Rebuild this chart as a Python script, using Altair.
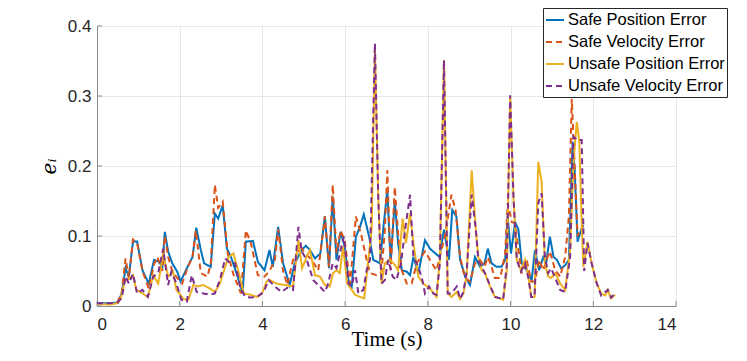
import altair as alt
import pandas as pd

series_names = ["Safe Position Error", "Safe Velocity Error",
                "Unsafe Position Error", "Unsafe Velocity Error"]
series_colors = ["#0072BD", "#D95319", "#EDB120", "#7E2F8E"]
series_dashes = [[1, 0], [6, 4], [1, 0], [6, 4]]

x_ticks = [0, 2, 4, 6, 8, 10, 12, 14]
y_ticks = [0, 0.1, 0.2, 0.3, 0.4]

safe_pos_t = [0.0, 0.3, 0.5, 0.6, 0.69, 0.77, 0.87, 0.97, 1.1, 1.25, 1.38, 1.5, 1.58, 1.64, 1.72,
              1.82, 1.94, 2.02, 2.19, 2.31, 2.4, 2.51, 2.59, 2.75, 2.85, 2.93, 3.04, 3.14, 3.24,
              3.4, 3.52, 3.6, 3.77, 3.89, 4.05, 4.17, 4.25, 4.38, 4.5, 4.66, 4.78, 4.95, 5.05,
              5.15, 5.27, 5.4, 5.51, 5.61, 5.7, 5.79, 5.89, 5.99, 6.08, 6.16, 6.26, 6.36, 6.45,
              6.58, 6.68, 6.84, 6.92, 7.02, 7.1, 7.2, 7.28, 7.37, 7.49, 7.57, 7.65, 7.77, 7.93,
              8.05, 8.28, 8.39, 8.51, 8.59, 8.69, 8.78, 8.9, 9.02, 9.14, 9.26, 9.37, 9.45, 9.54,
              9.66, 9.78, 9.87, 9.93, 10.01, 10.11, 10.19, 10.27, 10.39, 10.51, 10.59, 10.69,
              10.79, 10.86, 10.95, 11.04, 11.12, 11.22, 11.32, 11.41, 11.5, 11.55, 11.62, 11.68,
              11.76]
safe_pos_v = [0.004, 0.004, 0.005, 0.018, 0.054, 0.042, 0.092, 0.092, 0.051, 0.032, 0.066, 0.063,
              0.056, 0.106, 0.078, 0.061, 0.049, 0.035, 0.056, 0.07, 0.112, 0.08, 0.061, 0.056,
              0.132, 0.125, 0.144, 0.082, 0.07, 0.042, 0.018, 0.092, 0.093, 0.063, 0.051, 0.08,
              0.056, 0.113, 0.061, 0.03, 0.061, 0.08, 0.086, 0.08, 0.068, 0.075, 0.128, 0.054,
              0.156, 0.066, 0.106, 0.085, 0.037, 0.028, 0.099, 0.113, 0.131, 0.099, 0.066, 0.061,
              0.109, 0.166, 0.061, 0.151, 0.09, 0.051, 0.049, 0.044, 0.07, 0.047, 0.094, 0.082,
              0.07, 0.109, 0.066, 0.137, 0.128, 0.066, 0.042, 0.03, 0.07, 0.056, 0.061, 0.082,
              0.061, 0.056, 0.056, 0.066, 0.128, 0.075, 0.12, 0.109, 0.061, 0.051, 0.037, 0.08,
              0.051, 0.07, 0.061, 0.099, 0.07, 0.066, 0.054, 0.058, 0.066, 0.235, 0.194, 0.092,
              0.104, 0.116]

safe_vel_t = [0.0, 0.3, 0.5, 0.6, 0.69, 0.77, 0.87, 0.97, 1.1, 1.25, 1.38, 1.46, 1.58, 1.64, 1.72,
              1.82, 1.94, 2.06, 2.19, 2.31, 2.39, 2.51, 2.67, 2.75, 2.85, 2.93, 3.04, 3.16, 3.3,
              3.48, 3.6, 3.72, 3.89, 4.05, 4.17, 4.3, 4.38, 4.5, 4.6, 4.74, 4.92, 5.0, 5.2, 5.35,
              5.51, 5.61, 5.7, 5.79, 5.89, 5.99, 6.12, 6.26, 6.4, 6.52, 6.6, 6.76, 6.88, 6.96,
              7.02, 7.1, 7.2, 7.28, 7.37, 7.49, 7.61, 7.73, 7.93, 8.1, 8.21, 8.33, 8.41, 8.49,
              8.57, 8.67, 8.78, 8.9, 9.02, 9.14, 9.26, 9.37, 9.45, 9.54, 9.62, 9.75, 9.87, 9.93,
              10.03, 10.11, 10.19, 10.27, 10.39, 10.5, 10.59, 10.69, 10.79, 10.87, 10.95, 11.08,
              11.2, 11.32, 11.41, 11.48, 11.55, 11.62, 11.7, 11.76]
safe_vel_v = [0.003, 0.003, 0.006, 0.02, 0.068, 0.04, 0.095, 0.09, 0.05, 0.025, 0.06, 0.07, 0.05,
              0.1, 0.07, 0.05, 0.04, 0.032, 0.055, 0.07, 0.108, 0.047, 0.042, 0.06, 0.173, 0.14,
              0.149, 0.075, 0.045, 0.018, 0.108, 0.09, 0.044, 0.042, 0.05, 0.065, 0.11, 0.05,
              0.03, 0.066, 0.085, 0.078, 0.065, 0.051, 0.128, 0.056, 0.173, 0.075, 0.108, 0.094,
              0.032, 0.128, 0.099, 0.066, 0.047, 0.044, 0.049, 0.109, 0.194, 0.051, 0.17, 0.104,
              0.051, 0.032, 0.032, 0.061, 0.078, 0.061, 0.051, 0.08, 0.1, 0.128, 0.159, 0.137,
              0.07, 0.04, 0.035, 0.061, 0.066, 0.056, 0.07, 0.056, 0.04, 0.04, 0.075, 0.147, 0.12,
              0.118, 0.08, 0.047, 0.066, 0.035, 0.035, 0.066, 0.051, 0.066, 0.078, 0.051, 0.042,
              0.07, 0.128, 0.296, 0.2, 0.1, 0.11, 0.115]

unsafe_pos_t = [0.0, 0.3, 0.5, 0.57, 0.67, 0.79, 0.87, 0.95, 1.1, 1.23, 1.36, 1.48, 1.6, 1.72,
                1.84, 1.92, 2.09, 2.21, 2.33, 2.45, 2.57, 2.73, 2.85, 2.97, 3.1, 3.18, 3.3, 3.42,
                3.55, 3.71, 3.87, 3.99, 4.1, 4.18, 4.34, 4.54, 4.74, 4.87, 4.96, 5.07, 5.15, 5.27,
                5.39, 5.51, 5.63, 5.71, 5.79, 5.87, 5.95, 6.05, 6.16, 6.24, 6.36, 6.46, 6.56,
                6.64, 6.72, 6.8, 6.88, 6.96, 7.08, 7.2, 7.28, 7.39, 7.47, 7.57, 7.65, 7.77, 7.89,
                8.05, 8.21, 8.29, 8.39, 8.48, 8.57, 8.7, 8.78, 8.86, 8.94, 9.06, 9.16, 9.22, 9.3,
                9.38, 9.5, 9.62, 9.74, 9.82, 9.91, 9.99, 10.07, 10.15, 10.25, 10.35, 10.43, 10.5,
                10.58, 10.67, 10.75, 10.83, 10.91, 10.98, 11.08, 11.2, 11.32, 11.44, 11.52, 11.6,
                11.66, 11.72, 11.76, 11.86, 11.96, 12.08, 12.19, 12.29, 12.35, 12.43, 12.53]
unsafe_pos_v = [0.003, 0.002, 0.004, 0.01, 0.035, 0.04, 0.044, 0.023, 0.018, 0.013, 0.044, 0.032,
                0.075, 0.042, 0.049, 0.023, 0.01, 0.009, 0.03, 0.028, 0.03, 0.025, 0.02, 0.032,
                0.056, 0.07, 0.075, 0.049, 0.018, 0.016, 0.013, 0.018, 0.035, 0.037, 0.032, 0.03,
                0.028, 0.094, 0.054, 0.07, 0.08, 0.044, 0.042, 0.03, 0.028, 0.047, 0.051, 0.047,
                0.085, 0.032, 0.023, 0.016, 0.013, 0.011, 0.066, 0.109, 0.366, 0.156, 0.032, 0.061,
                0.066, 0.059, 0.051, 0.125, 0.09, 0.132, 0.09, 0.042, 0.032, 0.025, 0.013, 0.066,
                0.351, 0.018, 0.013, 0.02, 0.01, 0.018, 0.046, 0.194, 0.109, 0.07, 0.051, 0.047,
                0.028, 0.013, 0.011, 0.009, 0.051, 0.299, 0.156, 0.066, 0.051, 0.066, 0.042, 0.013,
                0.013, 0.206, 0.178, 0.061, 0.042, 0.04, 0.047, 0.032, 0.023, 0.08, 0.204, 0.263,
                0.237, 0.118, 0.056, 0.092, 0.061, 0.033, 0.018, 0.015, 0.023, 0.011, 0.016]

unsafe_vel_t = [0.0, 0.3, 0.5, 0.6, 0.69, 0.77, 0.87, 0.97, 1.1, 1.23, 1.36, 1.48, 1.6, 1.72, 1.8,
                1.92, 2.04, 2.17, 2.29, 2.41, 2.57, 2.73, 2.85, 2.97, 3.1, 3.22, 3.34, 3.46, 3.58,
                3.71, 3.87, 4.03, 4.15, 4.3, 4.46, 4.6, 4.74, 4.87, 4.95, 5.07, 5.23, 5.35, 5.51,
                5.59, 5.7, 5.79, 5.89, 5.97, 6.08, 6.16, 6.24, 6.32, 6.44, 6.52, 6.6, 6.72, 6.8,
                6.88, 6.96, 7.04, 7.15, 7.24, 7.35, 7.45, 7.57, 7.65, 7.73, 7.85, 7.93, 8.03, 8.13,
                8.21, 8.29, 8.39, 8.48, 8.57, 8.7, 8.78, 8.86, 8.94, 9.06, 9.16, 9.22, 9.3, 9.38,
                9.5, 9.62, 9.74, 9.82, 9.91, 9.99, 10.07, 10.15, 10.25, 10.35, 10.43, 10.5, 10.58,
                10.67, 10.75, 10.83, 10.91, 10.98, 11.08, 11.2, 11.32, 11.44, 11.52, 11.62, 11.72,
                11.78, 11.86, 11.96, 12.08, 12.19, 12.29, 12.35, 12.43, 12.53]
unsafe_vel_v = [0.004, 0.004, 0.005, 0.012, 0.042, 0.032, 0.046, 0.018, 0.023, 0.013, 0.042, 0.047,
                0.082, 0.03, 0.049, 0.032, 0.009, 0.006, 0.044, 0.02, 0.018, 0.016, 0.018, 0.037,
                0.068, 0.061, 0.061, 0.028, 0.013, 0.012, 0.013, 0.02, 0.037, 0.028, 0.02, 0.026,
                0.023, 0.113, 0.078, 0.066, 0.037, 0.03, 0.02, 0.032, 0.061, 0.054, 0.08, 0.099,
                0.032, 0.028, 0.051, 0.018, 0.023, 0.051, 0.066, 0.375, 0.156, 0.032, 0.037, 0.066,
                0.042, 0.037, 0.061, 0.109, 0.159, 0.07, 0.061, 0.042, 0.018, 0.028, 0.018, 0.016,
                0.061, 0.351, 0.018, 0.018, 0.028, 0.01, 0.02, 0.05, 0.159, 0.109, 0.066, 0.056,
                0.047, 0.03, 0.013, 0.011, 0.009, 0.06, 0.301, 0.156, 0.066, 0.049, 0.061, 0.04,
                0.013, 0.013, 0.147, 0.161, 0.07, 0.047, 0.054, 0.04, 0.023, 0.02, 0.07, 0.242,
                0.237, 0.237, 0.05, 0.09, 0.061, 0.033, 0.015, 0.02, 0.023, 0.012, 0.018]

rows = []
for name, ts, vs in zip(series_names,
                        [safe_pos_t, safe_vel_t, unsafe_pos_t, unsafe_vel_t],
                        [safe_pos_v, safe_vel_v, unsafe_pos_v, unsafe_vel_v]):
    for t, v in zip(ts, vs):
        rows.append({"t": t, "v": v, "series": name})
df = pd.DataFrame(rows)

W, H = 579, 280
AXIS_GRAY = "#8a8a8a"
TEXT = "#262626"

x_scale = alt.Scale(domain=[0, 14], nice=False, zero=False)
y_scale = alt.Scale(domain=[0, 0.4], nice=False, zero=False)

x_axis = alt.Axis(values=x_ticks, format="d", title="Time (s)", grid=True,
                  ticks=False, labelPadding=10, titlePadding=-4,
                  labelFont="Liberation Sans", labelFontSize=17, labelColor=TEXT,
                  titleFont="Liberation Serif", titleFontSize=21, titleFontWeight="normal",
                  titleColor="#000000", domainColor=AXIS_GRAY, gridColor="#e6e6e6")
y_axis = alt.Axis(values=y_ticks, format="~g", title="eᵢ", grid=True,
                  ticks=False, labelPadding=6, titlePadding=8,
                  labelFont="Liberation Sans", labelFontSize=17, labelColor=TEXT,
                  titleFont="DejaVu Serif", titleFontStyle="italic",
                  titleFontWeight="normal", titleFontSize=20, titleColor="#000000",
                  domainColor=AXIS_GRAY, gridColor="#e6e6e6")

legend = alt.Legend(
    title=None, orient="none", legendX=446, legendY=-18,
    symbolType="stroke", symbolSize=324, symbolStrokeWidth=2,
    labelFont="Liberation Sans", labelFontSize=16.5, labelColor="#000000",
    labelOffset=3, labelLimit=300,
    strokeColor="#262626", fillColor="#ffffff", padding=2, rowPadding=3,
    cornerRadius=0,
)

lines = alt.Chart(df).mark_line(strokeWidth=2, clip=True).encode(
    x=alt.X("t:Q", scale=x_scale, axis=x_axis, title="Time (s)"),
    y=alt.Y("v:Q", scale=y_scale, axis=y_axis, title="eᵢ"),
    color=alt.Color("series:N", scale=alt.Scale(domain=series_names, range=series_colors),
                    legend=legend),
    strokeDash=alt.StrokeDash("series:N",
                              scale=alt.Scale(domain=series_names, range=series_dashes),
                              legend=legend),
)

xtick = alt.Chart(pd.DataFrame({"t": x_ticks})).mark_rule(color=AXIS_GRAY, strokeWidth=1).encode(
    x=alt.X("t:Q", scale=x_scale, axis=x_axis, title="Time (s)"),
    y=alt.value(H), y2=alt.value(H - 5),
)
ytick = alt.Chart(pd.DataFrame({"v": y_ticks})).mark_rule(color=AXIS_GRAY, strokeWidth=1).encode(
    y=alt.Y("v:Q", scale=y_scale, axis=y_axis, title="eᵢ"),
    x=alt.value(0), x2=alt.value(5),
)

chart = alt.layer(xtick, ytick, lines).properties(
    width=W, height=H,
    autosize=alt.AutoSizeParams(type="none"),
    padding={"left": 89, "top": 18, "right": 63, "bottom": 47},
).configure(background="#ffffff").configure_view(stroke=None).configure_axis(
    domainColor=AXIS_GRAY, domainWidth=1,
    gridColor="#e6e6e6", gridWidth=1,
    labelFont="Liberation Sans", labelFontSize=17, labelColor=TEXT,
    titleFont="Liberation Serif", titleFontSize=21, titleFontWeight="normal", titleColor="#000000",
)

chart.save("out.html", embed_options={"renderer": "svg", "actions": False})
